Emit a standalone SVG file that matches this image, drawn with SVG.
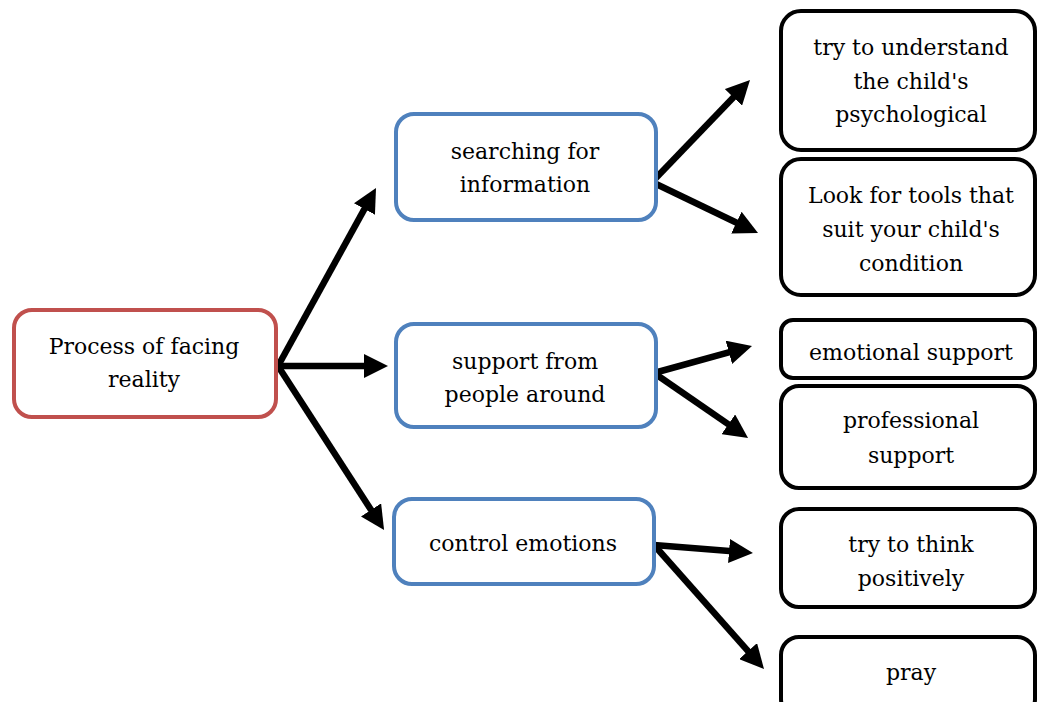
<svg xmlns="http://www.w3.org/2000/svg" width="1037" height="702" viewBox="0 0 1037 702">
<style>
.t{font-family:"DejaVu Serif","Liberation Serif",serif;font-size:22px;fill:#000;text-anchor:middle}
.red{fill:#fff;stroke:#c0504d;stroke-width:4}
.blue{fill:#fff;stroke:#4f81bd;stroke-width:4}
.blk{fill:#fff;stroke:#000;stroke-width:4}
.c{stroke:#000;stroke-width:6.5;fill:none;marker-end:url(#ah)}
</style>
<defs>
<marker id="ah" markerUnits="userSpaceOnUse" viewBox="0 0 24 24" refX="13" refY="12" markerWidth="24" markerHeight="24" orient="auto">
<path d="M0,0 L24,12 L0,24 z" fill="#000"/>
</marker>
</defs>
<rect width="1037" height="702" fill="#fff"/>
<g id="connectors">
<line class="c" x1="278" y1="366" x2="370.7" y2="197.6"/>
<line class="c" x1="278" y1="366" x2="377" y2="366"/>
<line class="c" x1="278" y1="366" x2="378.1" y2="520.8"/>
<line class="c" x1="654" y1="180" x2="742.4" y2="87.9"/>
<line class="c" x1="654" y1="183" x2="748.1" y2="228.2"/>
<line class="c" x1="654" y1="373" x2="741.4" y2="348.9"/>
<line class="c" x1="654" y1="373" x2="739" y2="431.7"/>
<line class="c" x1="654" y1="545" x2="742" y2="552.1"/>
<line class="c" x1="654" y1="545" x2="756.7" y2="660.8"/>
</g>
<g id="root">
<rect class="red" x="14" y="310" width="262" height="107" rx="18"/>
<text class="t" x="144" y="354">Process of facing</text>
<text class="t" x="144" y="387">reality</text>
</g>
<g id="search">
<rect class="blue" x="396" y="114" width="260" height="106" rx="18"/>
<text class="t" x="525" y="159">searching for</text>
<text class="t" x="525" y="192">information</text>
</g>
<g id="people">
<rect class="blue" x="396" y="324" width="260" height="103" rx="18"/>
<text class="t" x="525" y="369">support from</text>
<text class="t" x="525" y="402">people around</text>
</g>
<g id="control">
<rect class="blue" x="394" y="499" width="260" height="85" rx="18"/>
<text class="t" x="523" y="551">control emotions</text>
</g>
<g id="understand">
<rect class="blk" x="781" y="11" width="254" height="139" rx="20"/>
<text class="t" x="911" y="55">try to understand</text>
<text class="t" x="911" y="89">the child's</text>
<text class="t" x="911" y="122">psychological</text>
</g>
<g id="tools">
<rect class="blk" x="781" y="159" width="254" height="136" rx="20"/>
<text class="t" x="911" y="203">Look for tools that</text>
<text class="t" x="911" y="237">suit your child's</text>
<text class="t" x="911" y="271">condition</text>
</g>
<g id="emotional">
<rect class="blk" x="781" y="320" width="254" height="58" rx="12"/>
<text class="t" x="911" y="360">emotional support</text>
</g>
<g id="professional">
<rect class="blk" x="781" y="386" width="254" height="102" rx="18"/>
<text class="t" x="911" y="428">professional</text>
<text class="t" x="911" y="463">support</text>
</g>
<g id="positive">
<rect class="blk" x="781" y="509" width="254" height="98" rx="18"/>
<text class="t" x="911" y="552">try to think</text>
<text class="t" x="911" y="586">positively</text>
</g>
<g id="pray">
<rect class="blk" x="781" y="637" width="254" height="80" rx="18"/>
<text class="t" x="911" y="680">pray</text>
</g>
</svg>
